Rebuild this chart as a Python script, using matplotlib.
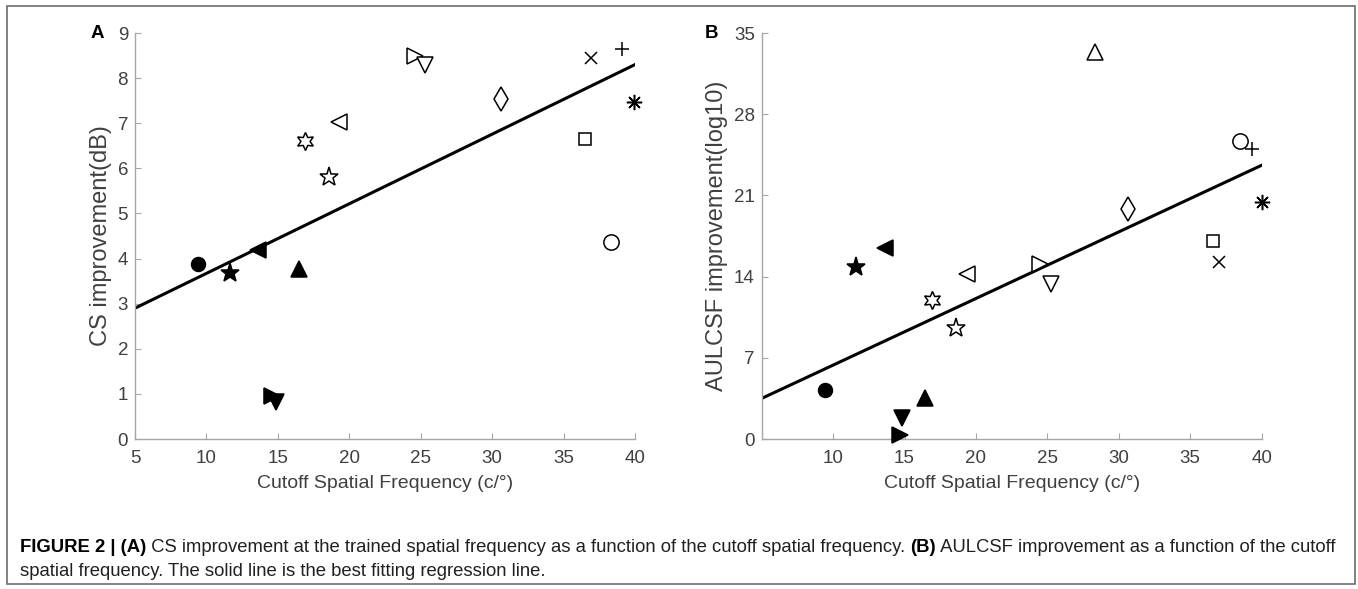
import numpy as np
import matplotlib
matplotlib.use("Agg")
import matplotlib.pyplot as plt
from matplotlib.patches import Rectangle

plt.rcParams['font.family'] = ['Liberation Sans', 'DejaVu Sans']

# ---------------- data ----------------
# subjects (marker id): x = cutoff spatial frequency (c/deg)
subjects = ['filled_circle', 'filled_star', 'filled_left', 'filled_up', 'filled_right', 'filled_down',
            'hexagram', 'pentagram', 'open_left', 'open_right', 'open_down', 'diamond',
            'xmark', 'plus', 'asterisk', 'square', 'open_circle', 'open_up']

cutoff_A = [9.4, 11.65, 13.6, 16.45, 14.6, 14.9,
            16.9, 18.6, 19.3, 24.6, 25.3, 30.6,
            36.9, 39.1, 39.9, 36.5, 38.3, np.nan]
cs_improvement = [3.88, 3.67, 4.2, 3.76, 0.95, 0.82,
                  6.6, 5.81, 7.02, 8.5, 8.3, 7.53,
                  8.44, 8.64, 7.48, 6.64, 4.36, np.nan]

cutoff_B = [9.4, 11.6, 13.6, 16.4, 14.65, 14.85,
            16.9, 18.6, 19.4, 24.5, 25.25, 30.65,
            37.0, 39.35, 40.0, 36.6, 38.45, 28.3]
aulcsf_improvement = [4.24, 14.85, 16.5, 3.5, 0.37, 1.8,
                      12.0, 9.55, 14.2, 15.1, 13.4, 19.8,
                      15.3, 25.0, 20.4, 17.05, 25.7, 33.35]

fit_x_A = [5, 40]
fit_y_A = [2.9, 8.3]
fit_x_B = [5, 40]
fit_y_B = [3.5, 23.6]

xticks_A = [5, 10, 15, 20, 25, 30, 35, 40]
yticks_A = [0, 1, 2, 3, 4, 5, 6, 7, 8, 9]
xticks_B = [10, 15, 20, 25, 30, 35, 40]
yticks_B = [0, 7, 14, 21, 28, 35]

# marker styles: (marker, filled, size)
styles = {
    'filled_circle': ('o', True, 10),
    'filled_star': ('*', True, 14),
    'filled_left': ('<', True, 11),
    'filled_up': ('^', True, 11),
    'filled_right': ('>', True, 11),
    'filled_down': ('v', True, 11),
    'hexagram': ((6, 1, 0), False, 13),
    'pentagram': ('*', False, 14),
    'open_left': ('<', False, 12),
    'open_right': ('>', False, 12),
    'open_down': ('v', False, 12),
    'diamond': ('d', False, 12),
    'xmark': ('x', False, 8),
    'plus': ('+', False, 10),
    'asterisk': ((8, 2, 0), False, 11),
    'square': ('s', False, 8),
    'open_circle': ('o', False, 11),
    'open_up': ('^', False, 12),
}

W, H = 1358, 589
fig = plt.figure(figsize=(W / 100, H / 100), dpi=100)

# figure frame
fig.patches.append(Rectangle((7 / W, 1 - 584 / H), (1355 - 7) / W, (584 - 6) / H,
                             transform=fig.transFigure, fill=False, edgecolor='#6d6d6d', lw=1.2))

spine_c = '#a6a6a6'
text_c = '#404040'


def make_axes(left, right):
    bottom = 1 - 439 / H
    top = 1 - 33 / H
    ax = fig.add_axes([left / W, bottom, (right - left) / W, top - bottom])
    for s in ['top', 'right']:
        ax.spines[s].set_visible(False)
    for s in ['left', 'bottom']:
        ax.spines[s].set_color(spine_c)
        ax.spines[s].set_linewidth(1.0)
    ax.tick_params(direction='in', length=4, width=0.8, color=spine_c,
                   labelcolor=text_c, labelsize=13.5)
    ax.tick_params(axis='x', pad=8)
    ax.tick_params(axis='y', pad=5)
    return ax


def draw_points(ax, xs, ys):
    for name, x, y in zip(subjects, xs, ys):
        if np.isnan(x) or np.isnan(y):
            continue
        m, filled, ms = styles[name]
        ax.plot([x], [y], linestyle='none', marker=m, markersize=ms,
                markerfacecolor='black' if filled else 'white',
                markeredgecolor='black', markeredgewidth=1.1, zorder=3, clip_on=False)


# Panel A
axA = make_axes(135, 635)
axA.plot(fit_x_A, fit_y_A, color='black', lw=2.2, zorder=2)
draw_points(axA, cutoff_A, cs_improvement)
axA.set_xlim(5, 40)
axA.set_ylim(0, 9)
axA.set_xticks(xticks_A)
axA.set_yticks(yticks_A)
axA.set_xlabel('Cutoff Spatial Frequency (c/°)', fontsize=14, color=text_c, labelpad=6)
axA.set_ylabel('CS improvement(dB)', fontsize=17, color=text_c, labelpad=4)

# Panel B
axB = make_axes(761.7, 1261.7)
axB.plot(fit_x_B, fit_y_B, color='black', lw=2.2, zorder=2)
draw_points(axB, cutoff_B, aulcsf_improvement)
axB.set_xlim(5, 40)
axB.set_ylim(0, 35)
axB.set_xticks(xticks_B)
axB.set_yticks(yticks_B)
axB.set_xlabel('Cutoff Spatial Frequency (c/°)', fontsize=14, color=text_c, labelpad=6)
axB.set_ylabel('AULCSF improvement(log10)', fontsize=17, color=text_c, labelpad=4)

# panel letters
fig.text(97 / W, 1 - 33 / H, 'A', fontsize=13.5, fontweight='bold', ha='center', va='center')
fig.text(711 / W, 1 - 33 / H, 'B', fontsize=13.5, fontweight='bold', ha='center', va='center')

# caption with mixed weights
cap_c = '#231f20'
cap_size = 13.35
line1 = [('FIGURE 2 | (A)', 'bold'),
         (' CS improvement at the trained spatial frequency as a function of the cutoff spatial frequency. ', 'normal'),
         ('(B)', 'bold'),
         (' AULCSF improvement as a function of the cutoff', 'normal')]
line2 = [('spatial frequency. The solid line is the best fitting regression line.', 'normal')]

fig.canvas.draw()
renderer = fig.canvas.get_renderer()


def draw_line(parts, x0, y0):
    x = x0
    for txt, w in parts:
        t = fig.text(x / W, 1 - y0 / H, txt, fontsize=cap_size, fontweight=w,
                     color=cap_c if w == 'normal' else 'black', ha='left', va='center')
        bb = t.get_window_extent(renderer=renderer)
        x += bb.width


draw_line(line1, 20, 547)
draw_line(line2, 20, 571)

fig.savefig('out.png', dpi=100)
